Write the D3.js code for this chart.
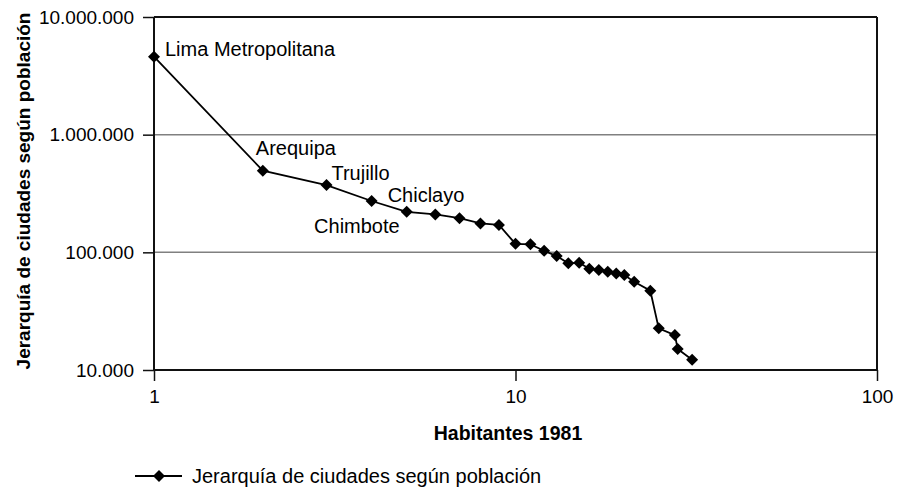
<!DOCTYPE html>
<html>
<head>
<meta charset="utf-8">
<script src="https://cdn.jsdelivr.net/npm/d3@7"></script>
<style>
    body { margin: 0; background: #fff; }
    text { font-family: "Liberation Sans", Arial, sans-serif; fill: #000; }
</style>
</head>
<body>
<div id="chart"></div>
<script>
// rank of each city (x) and its population (y)
var ranks = [1, 2, 3, 4, 5, 6, 7, 8, 9, 10, 11, 12, 13, 14, 15, 16, 17, 18, 19, 20,
    21.3, 23.6, 24.9, 27.6, 28.1, 30.8];
var population = [4600000, 494000, 373000, 273000, 221000, 210000, 195000, 176000, 171000, 118000,
    117000, 103000, 93000, 80700, 81600, 72600, 70800, 68400, 66100, 64200,
    56300, 47200, 22600, 19800, 15100, 12200];
var cityNames = ["Lima Metropolitana", "Arequipa", "Trujillo", "Chiclayo", "Chimbote"];
var xTicks = [1, 10, 100];
var yTicks = [10000, 100000, 1000000, 10000000];
var seriesName = "Jerarquía de ciudades según población";

var data = ranks.map(function (r, i) { return { rank: r, pop: population[i] }; });

var margin = { top: 17, right: 23, bottom: 123, left: 154 },
    width = 900 - margin.left - margin.right,
    height = 493 - margin.top - margin.bottom;

var svg = d3.select("#chart").append("svg")
    .attr("width", 900)
    .attr("height", 493);

var g = svg.append("g")
    .attr("transform", "translate(" + margin.left + "," + margin.top + ")");

var x = d3.scaleLog().domain([1, 100]).range([0, width]);
var y = d3.scaleLog().domain([10000, 10000000]).range([height, 0]);

var fmt = function (v) { return d3.format(",")(v).replace(/,/g, "."); };

// gridlines
g.selectAll(".grid")
    .data(yTicks.slice(1, 3))
    .enter().append("line")
    .attr("x1", 0).attr("x2", width)
    .attr("y1", function (d) { return y(d); })
    .attr("y2", function (d) { return y(d); })
    .attr("stroke", "#808080")
    .attr("stroke-width", 1.5);

// frame top / right
g.append("line").attr("x1", 0).attr("x2", width).attr("y1", 0).attr("y2", 0)
    .attr("stroke", "#111").attr("stroke-width", 2);
g.append("line").attr("x1", width).attr("x2", width).attr("y1", 0).attr("y2", height)
    .attr("stroke", "#111").attr("stroke-width", 2);

// axes
var xAxis = g.append("g")
    .attr("transform", "translate(0," + height + ")")
    .call(d3.axisBottom(x).tickValues(xTicks).tickFormat(d3.format("d")).tickSize(11).tickPadding(9));
var yAxis = g.append("g")
    .call(d3.axisLeft(y).tickValues(yTicks).tickFormat(fmt).tickSize(11).tickPadding(9));

[xAxis, yAxis].forEach(function (a) {
    a.select(".domain").attr("stroke", "#111").attr("stroke-width", 2);
    a.selectAll(".tick line").attr("stroke", "#111").attr("stroke-width", 1.5);
    a.selectAll(".tick text")
        .attr("font-size", 19)
        .attr("font-family", "'Liberation Sans', Arial, sans-serif")
        .attr("fill", "#000");
});
xAxis.select(".domain").attr("d", "M0,0H" + width);
yAxis.select(".domain").attr("d", "M0,0V" + height);

// series line
var line = d3.line()
    .x(function (d) { return x(d.rank); })
    .y(function (d) { return y(d.pop); });

g.append("path")
    .datum(data)
    .attr("fill", "none")
    .attr("stroke", "#000")
    .attr("stroke-width", 1.8)
    .attr("d", line);

var diamond = d3.symbol().type(d3.symbolSquare).size(72);

g.selectAll(".pt")
    .data(data)
    .enter().append("path")
    .attr("d", diamond)
    .attr("fill", "#000")
    .attr("transform", function (d) {
        return "translate(" + x(d.rank) + "," + y(d.pop) + ") rotate(45)";
    });

// city labels
var labelOffsets = [[11, -1, "start"], [-7, -16, "start"], [5, -5, "start"], [16, 1, "start"], [-7, 21, "end"]];
cityNames.forEach(function (name, i) {
    g.append("text")
        .attr("x", x(data[i].rank) + labelOffsets[i][0])
        .attr("y", y(data[i].pop) + labelOffsets[i][1])
        .attr("text-anchor", labelOffsets[i][2])
        .attr("font-size", 20)
        .text(name);
});

// axis titles
svg.append("text")
    .attr("x", 508)
    .attr("y", 440)
    .attr("text-anchor", "middle")
    .attr("font-size", 19.5)
    .attr("font-weight", "bold")
    .text("Habitantes 1981");

svg.append("text")
    .attr("transform", "translate(30,191) rotate(-90)")
    .attr("text-anchor", "middle")
    .attr("font-size", 19)
    .attr("font-weight", "bold")
    .text(seriesName);

// legend
var legend = svg.append("g").attr("transform", "translate(135,476)");
legend.append("line").attr("x1", 0).attr("x2", 47).attr("y1", 0).attr("y2", 0)
    .attr("stroke", "#000").attr("stroke-width", 1.8);
legend.append("path").attr("d", diamond).attr("fill", "#000")
    .attr("transform", "translate(24,0) rotate(45)");
legend.append("text")
    .attr("x", 57)
    .attr("y", 7)
    .attr("font-size", 20)
    .text(seriesName);
</script>
</body>
</html>
